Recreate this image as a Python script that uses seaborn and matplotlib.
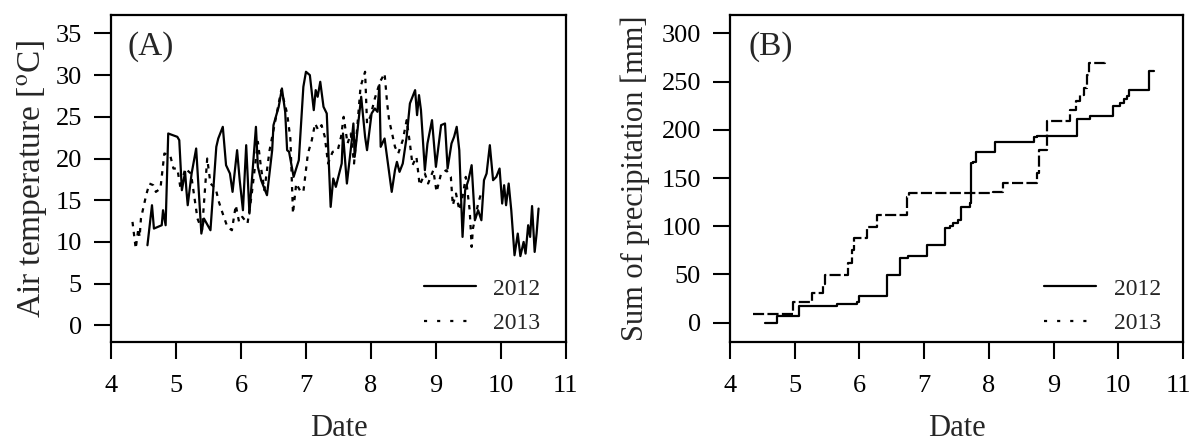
import matplotlib
matplotlib.use("Agg")
import matplotlib.pyplot as plt
from matplotlib.lines import Line2D
from matplotlib.transforms import ScaledTranslation
import seaborn as sns

# Panel A: daily air temperature (date as month.fraction)
temp_2012_x = [4.56, 4.63, 4.66, 4.78, 4.80, 4.84, 4.88, 5.02, 5.05, 5.09, 5.14, 5.16, 5.18,
               5.24, 5.31, 5.39, 5.43, 5.53, 5.62, 5.65, 5.72, 5.77, 5.83, 5.87, 5.94, 5.98,
               6.03, 6.08, 6.13, 6.16, 6.23, 6.26, 6.31, 6.40, 6.48, 6.50, 6.58, 6.63, 6.68,
               6.71, 6.74, 6.81, 6.89, 6.96, 7.00, 7.06, 7.12, 7.15, 7.18, 7.22, 7.27, 7.32,
               7.38, 7.42, 7.46, 7.55, 7.57, 7.63, 7.70, 7.73, 7.75, 7.81, 7.85, 7.91, 7.94,
               8.01, 8.06, 8.10, 8.13, 8.15, 8.21, 8.32, 8.37, 8.40, 8.44, 8.49, 8.55, 8.60,
               8.68, 8.71, 8.74, 8.77, 8.83, 8.87, 8.94, 9.00, 9.08, 9.14, 9.18, 9.24, 9.28,
               9.32, 9.36, 9.41, 9.45, 9.50, 9.55, 9.60, 9.65, 9.70, 9.74, 9.78, 9.83, 9.88,
               9.93, 9.98, 10.02, 10.05, 10.08, 10.12, 10.16, 10.21, 10.26, 10.30, 10.35,
               10.38, 10.42, 10.45, 10.48, 10.52, 10.55, 10.58]
temp_2012_y = [9.6, 14.4, 11.6, 12.0, 13.8, 12.0, 23.0, 22.6, 22.2, 16.2, 18.4, 16.2, 14.4,
               18.2, 21.2, 11.0, 12.8, 11.4, 21.4, 22.4, 23.8, 19.2, 18.2, 16.0, 21.0, 17.4,
               13.8, 21.6, 13.4, 16.6, 23.8, 19.0, 17.4, 15.6, 21.0, 24.0, 26.2, 28.4, 25.6,
               21.0, 20.8, 17.8, 19.8, 28.6, 30.4, 30.0, 25.8, 28.2, 27.4, 29.2, 26.2, 25.4,
               14.2, 17.6, 16.6, 19.4, 23.0, 17.0, 21.8, 24.2, 20.2, 24.6, 27.4, 22.6, 21.0,
               25.4, 26.0, 25.6, 28.8, 21.4, 22.4, 16.0, 18.6, 19.6, 18.4, 19.4, 22.6, 26.6,
               28.2, 25.2, 27.6, 25.8, 18.6, 21.8, 24.6, 19.0, 24.0, 24.2, 18.8, 21.8, 22.6,
               23.8, 21.0, 10.6, 16.2, 17.4, 19.2, 12.6, 13.8, 12.6, 17.4, 18.2, 21.6, 17.4,
               17.8, 18.8, 14.6, 16.8, 14.4, 17.0, 13.8, 8.4, 11.0, 8.3, 10.0,
               8.6, 12.0, 10.6, 14.3, 8.8, 11.0, 14.0]

temp_2013_x = [4.33, 4.38, 4.42, 4.44, 4.46, 4.54, 4.59, 4.65, 4.69, 4.76, 4.82, 4.91, 4.96,
               5.02, 5.07, 5.14, 5.23, 5.33, 5.40, 5.48, 5.53, 5.61, 5.66, 5.71, 5.79, 5.86,
               5.92, 5.97, 6.02, 6.10, 6.16, 6.26, 6.31, 6.36, 6.44, 6.51, 6.62, 6.71, 6.76,
               6.80, 6.85, 6.92, 6.96, 7.03, 7.09, 7.14, 7.19, 7.24, 7.29, 7.34, 7.41, 7.49,
               7.54, 7.58, 7.64, 7.69, 7.74, 7.79, 7.84, 7.91, 7.94, 7.99, 8.06, 8.14, 8.21,
               8.25, 8.28, 8.32, 8.37, 8.42, 8.49, 8.55, 8.60, 8.64, 8.70, 8.75, 8.83, 8.88,
               8.96, 9.01, 9.08, 9.16, 9.23, 9.26, 9.31, 9.36, 9.41, 9.46, 9.52, 9.55, 9.57,
               9.65, 9.71]
temp_2013_y = [12.4, 9.2, 11.6, 10.6, 12.8, 15.6, 17.0, 16.8, 16.0, 16.4, 20.6, 20.4, 18.8,
               18.8, 16.4, 18.8, 18.2, 12.8, 11.4, 20.0, 17.0, 16.4, 14.8, 13.6, 11.8, 11.4,
               14.4, 12.4, 13.0, 12.2, 15.4, 22.0, 18.8, 16.2, 21.0, 23.8, 28.2, 25.4, 22.4,
               13.4, 17.0, 16.0, 16.0, 20.6, 22.2, 24.2, 23.4, 24.0, 22.6, 19.4, 20.8, 21.0,
               22.6, 25.0, 21.8, 23.0, 19.4, 23.8, 28.6, 30.4, 24.2, 25.0, 27.2, 29.2, 30.2,
               26.6, 24.6, 23.2, 21.4, 20.6, 22.2, 24.6, 21.8, 19.2, 20.2, 16.8, 18.2, 17.0,
               18.6, 16.0, 18.2, 18.6, 17.8, 14.4, 15.8, 13.8, 15.4, 17.8, 13.8, 9.4, 11.6,
               14.6, 16.2]

# Panel B: cumulative precipitation (step breakpoints)
rain_2012_x = [4.54, 4.72, 5.06, 5.65, 5.96, 6.00, 6.42, 6.63, 6.75, 7.04, 7.32, 7.40, 7.45,
               7.52, 7.57, 7.71, 7.73, 7.76, 7.80, 8.10, 8.69, 8.75, 9.36, 9.56, 9.92, 10.03,
               10.08, 10.14, 10.16, 10.47, 10.55]
rain_2012_y = [0.0, 6.5, 17.0, 19.0, 21.0, 27.4, 49.0, 67.6, 69.0, 80.4, 97.8, 100.0, 103.0,
               106.5, 120.3, 124.0, 165.4, 167.0, 176.5, 187.0, 192.5, 194.0, 211.0, 214.5,
               224.5, 228.0, 231.5, 235.0, 241.0, 260.8, 261.0]

rain_2013_x = [4.35, 4.98, 5.26, 5.44, 5.46, 5.83, 5.89, 5.92, 6.11, 6.27, 6.73, 6.76, 8.07,
               8.22, 8.74, 8.77, 8.89, 9.25, 9.35, 9.40, 9.47, 9.52, 9.55, 9.80]
rain_2013_y = [9.3, 21.5, 30.8, 40.6, 49.0, 61.4, 75.0, 87.4, 99.5, 111.7, 130.7, 134.2,
               136.0, 144.6, 155.0, 179.3, 208.7, 221.0, 229.6, 236.5, 243.5, 257.3, 269.5,
               270.0]

years = ["2012", "2013"]

sns.set_theme(style="white")
plt.rcParams["font.family"] = ["Liberation Serif", "DejaVu Serif"]
plt.rcParams["mathtext.fontset"] = "stix"

DOT_A = (0, (2.0, 2.5))
DOT_B = (0, (5.0, 1.5))
DOT_LEG = (0, (1.4, 4.5))
LW = 1.6

fig = plt.figure(figsize=(11.89, 4.43), dpi=100)
ax_a = fig.add_axes([0.0934, 0.228, 0.3825, 0.738])
ax_b = fig.add_axes([0.614, 0.228, 0.381, 0.738])

# Panel A
sns.lineplot(x=temp_2012_x, y=temp_2012_y, ax=ax_a, color="black", lw=LW,
             estimator=None, sort=False)
sns.lineplot(x=temp_2013_x, y=temp_2013_y, ax=ax_a, color="black", lw=LW,
             linestyle=DOT_A, estimator=None, sort=False)
ax_a.set_ylim(-2, 37.2)
ax_a.set_yticks(range(0, 36, 5))
ax_a.set_ylabel("Air temperature [$^{\\mathrm{o}}$C]", fontsize=24, labelpad=5)
ax_a.text(0.037, 0.905, "(A)", transform=ax_a.transAxes, fontsize=24, va="center")

# Panel B
sns.lineplot(x=rain_2012_x, y=rain_2012_y, ax=ax_b, color="black", lw=LW,
             drawstyle="steps-post", estimator=None, sort=False)
sns.lineplot(x=rain_2013_x, y=rain_2013_y, ax=ax_b, color="black", lw=LW,
             linestyle=DOT_B, drawstyle="steps-post", estimator=None, sort=False)
ax_b.set_ylim(-20, 319)
ax_b.set_yticks(range(0, 301, 50))
ax_b.set_ylabel("Sum of precipitation [mm]", fontsize=22, labelpad=8)
ax_b.text(0.04, 0.905, "(B)", transform=ax_b.transAxes, fontsize=24, va="center")

handles = [Line2D([], [], color="black", lw=LW),
           Line2D([], [], color="black", lw=LW, linestyle=DOT_LEG)]

for ax, anchor_x in ((ax_a, 0.965), (ax_b, 0.972)):
    ax.set_xlim(4, 11)
    ax.set_xticks(range(4, 12))
    ax.set_xlabel("Date", fontsize=22, labelpad=12)
    ax.tick_params(direction="out", length=12, width=1.5, labelsize=19, pad=12,
                   colors="black", left=True, bottom=True)
    ax.tick_params(axis="y", pad=9)
    for spine in ax.spines.values():
        spine.set_color("black")
        spine.set_linewidth(1.6)
    ax.legend(handles, years, loc="lower right", bbox_to_anchor=(anchor_x, -0.005),
              frameon=False, fontsize=17, handlelength=2.2, handletextpad=0.75,
              labelspacing=0.55, borderaxespad=0)

# keep the last date label of panel B inside the figure
last = ax_b.get_xticklabels()[-1]
last.set_transform(last.get_transform() + ScaledTranslation(-5 / 100, 0, fig.dpi_scale_trans))

fig.savefig("out.png", dpi=100)
